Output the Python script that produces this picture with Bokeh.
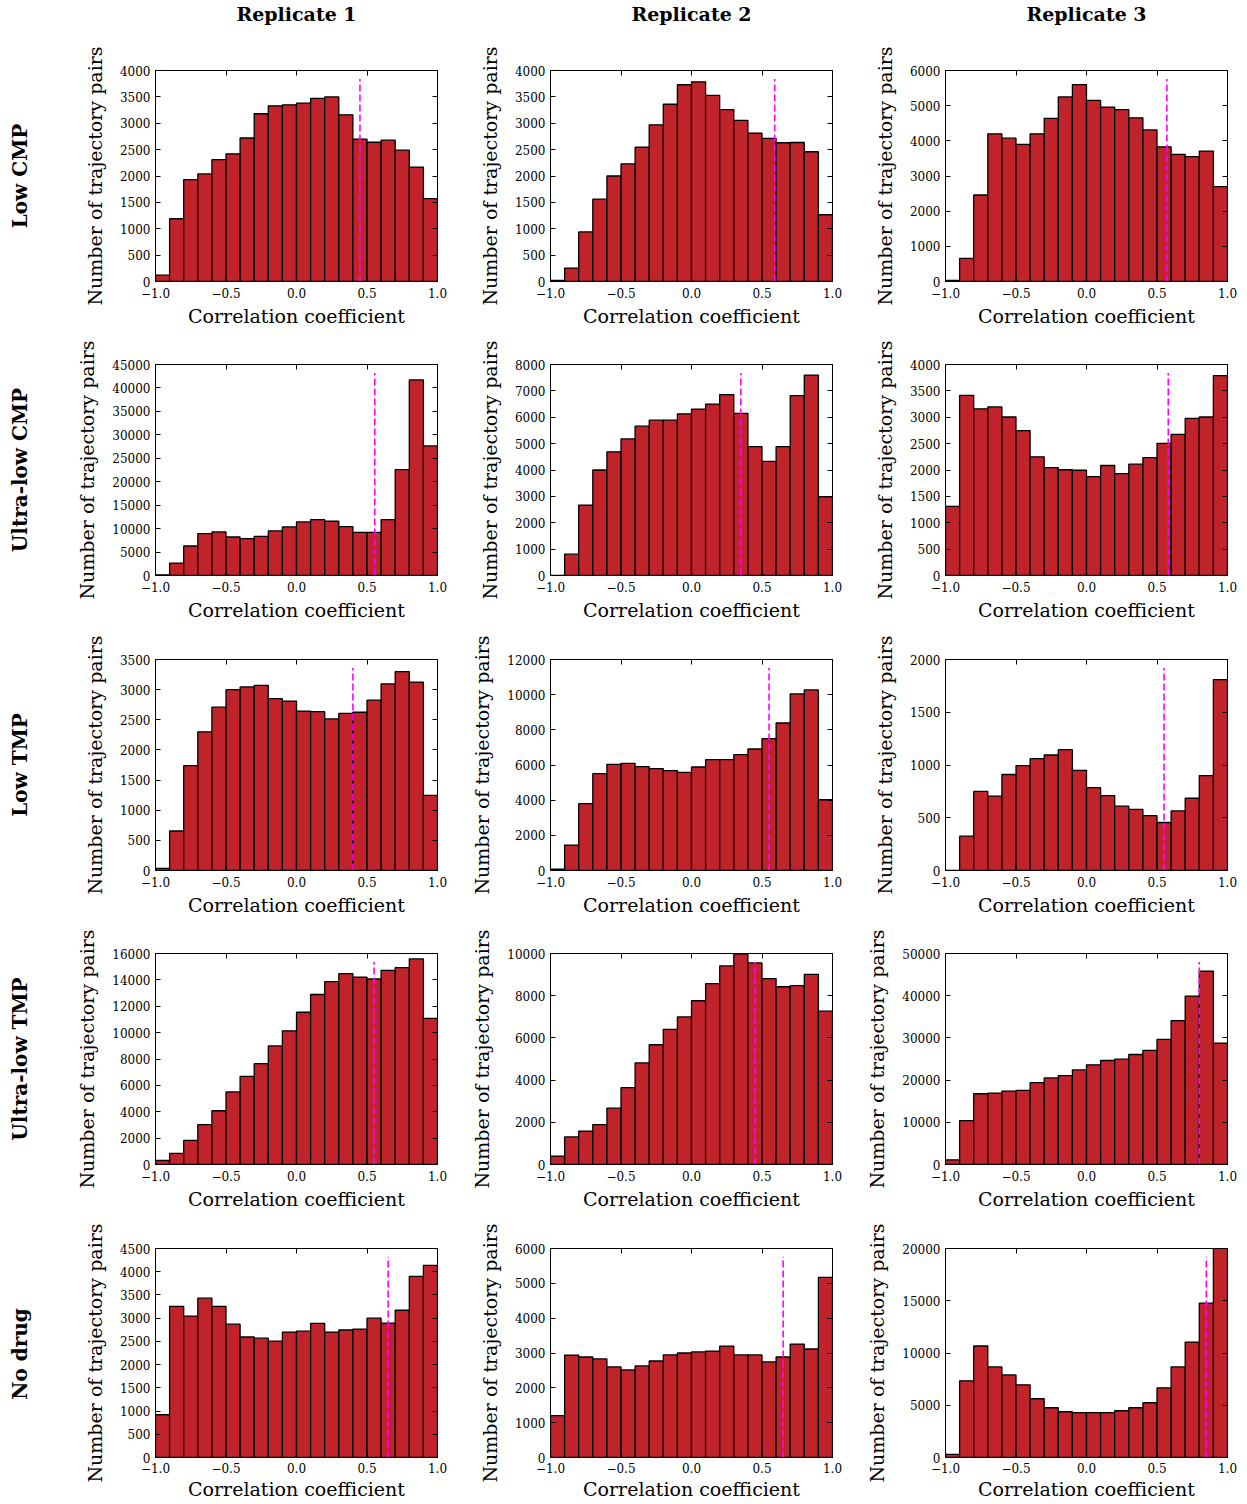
import numpy as np
from bokeh.plotting import figure
from bokeh.layouts import row, column
from bokeh.models import Range1d, FixedTicker, LinearAxis, CustomJSTickFormatter
from bokeh.core.properties import value
from bokeh.embed import file_html
from bokeh.resources import INLINE

# ---------------- data ----------------
conditions = ["Low CMP", "Ultra-low CMP", "Low TMP", "Ultra-low TMP", "No drug"]
replicates = ["Replicate 1", "Replicate 2", "Replicate 3"]

bin_edges = np.linspace(-1.0, 1.0, 21)

low_cmp_r1 = [120, 1190, 1930, 2040, 2310, 2420, 2720, 3180, 3330, 3350, 3380, 3470, 3500, 3160, 2700, 2640, 2680, 2490, 2170, 1570]
low_cmp_r2 = [20, 255, 940, 1560, 2000, 2230, 2545, 2970, 3360, 3730, 3785, 3530, 3260, 3055, 2810, 2715, 2630, 2635, 2460, 1265]
low_cmp_r3 = [30, 660, 2460, 4200, 4075, 3900, 4200, 4640, 5250, 5600, 5150, 4960, 4885, 4655, 4310, 3830, 3615, 3550, 3710, 2700]

ulow_cmp_r1 = [150, 2640, 6290, 8930, 9290, 8210, 7860, 8360, 9500, 10360, 11430, 11930, 11570, 10430, 9210, 9210, 11930, 22570, 41710, 27640]
ulow_cmp_r2 = [0, 810, 2670, 4000, 4690, 5180, 5660, 5890, 5890, 6130, 6310, 6500, 6860, 6150, 4890, 4330, 4890, 6820, 7600, 2985]
ulow_cmp_r3 = [1310, 3415, 3160, 3195, 3005, 2745, 2250, 2045, 2005, 1995, 1875, 2085, 1930, 2110, 2235, 2505, 2675, 2980, 3005, 3790]

low_tmp_r1 = [35, 655, 1740, 2300, 2710, 3000, 3045, 3070, 2850, 2810, 2645, 2635, 2515, 2605, 2625, 2825, 3095, 3300, 3125, 1245]
low_tmp_r2 = [80, 1445, 3800, 5505, 6040, 6095, 5905, 5790, 5680, 5580, 5885, 6305, 6305, 6590, 6910, 7500, 8390, 10045, 10270, 4025]
low_tmp_r3 = [0, 325, 750, 705, 910, 995, 1060, 1095, 1145, 950, 785, 710, 610, 580, 520, 455, 565, 685, 900, 1810]

ulow_tmp_r1 = [305, 840, 1835, 3030, 4075, 5505, 6675, 7645, 8995, 10140, 11545, 12890, 13860, 14470, 14215, 14065, 14725, 14930, 15590, 11085]
ulow_tmp_r2 = [400, 1305, 1575, 1890, 2670, 3640, 4815, 5675, 6405, 6995, 7760, 8570, 9410, 9980, 9555, 8810, 8425, 8475, 9015, 7265]
ulow_tmp_r3 = [1110, 10410, 16770, 16930, 17410, 17570, 19400, 20510, 21065, 22420, 23610, 24640, 24960, 26070, 27030, 29650, 34100, 39900, 45790, 28780]

nodrug_r1 = [920, 3255, 3045, 3430, 3255, 2870, 2595, 2570, 2505, 2700, 2720, 2890, 2700, 2745, 2765, 3000, 2895, 3170, 3900, 4135]
nodrug_r2 = [1200, 2940, 2885, 2830, 2600, 2515, 2630, 2770, 2945, 3000, 3030, 3055, 3200, 2945, 2945, 2745, 2885, 3255, 3115, 5170]
nodrug_r3 = [290, 7335, 10670, 8670, 7905, 6955, 5620, 4760, 4380, 4285, 4285, 4285, 4475, 4760, 5240, 6665, 8670, 11050, 14765, 20400]

counts = [
    [low_cmp_r1, low_cmp_r2, low_cmp_r3],
    [ulow_cmp_r1, ulow_cmp_r2, ulow_cmp_r3],
    [low_tmp_r1, low_tmp_r2, low_tmp_r3],
    [ulow_tmp_r1, ulow_tmp_r2, ulow_tmp_r3],
    [nodrug_r1, nodrug_r2, nodrug_r3],
]

medians = [
    [0.45, 0.59, 0.57],
    [0.555, 0.35, 0.58],
    [0.40, 0.55, 0.55],
    [0.55, 0.45, 0.80],
    [0.65, 0.65, 0.85],
]

# (axis max, tick step)
y_axes = [
    [(4000, 500), (4000, 500), (6000, 1000)],
    [(45000, 5000), (8000, 1000), (4000, 500)],
    [(3500, 500), (12000, 2000), (2000, 500)],
    [(16000, 2000), (10000, 2000), (50000, 10000)],
    [(4500, 500), (6000, 1000), (20000, 5000)],
]

x_ticks = [-1.0, -0.5, 0.0, 0.5, 1.0]
x_label = "Correlation coefficient"
y_label = "Number of trajectory pairs"

# ---------------- style / geometry ----------------
FONT = "DejaVu Serif"
BAR_FILL = "#C1232A"
MEDIAN_COLOR = "#FF00FF"

LEFT_W = 40
HEADER_H = 30
FRAME_W, FRAME_H = 282, 211
col_borders = [(115, 31), (82, 31), (82, 15)]          # (left, right)
row_borders = [(40, 50), (33, 50), (34, 50), (33, 50), (34, 43)]  # (top, bottom)

minus_fmt = "return tick.toFixed(1).replace('-', '\u2212');"
int_fmt = "return tick.toFixed(0);"
empty_fmt = "return '';"


def style_axis(ax, show_labels=True):
    ax.axis_line_color = "black"
    ax.axis_line_width = 1
    ax.major_tick_in = 5
    ax.major_tick_out = 0
    ax.major_tick_line_color = "black"
    ax.major_tick_line_width = 1
    ax.minor_tick_line_color = None
    ax.major_label_text_font = FONT
    ax.major_label_text_color = "black"
    ax.major_label_text_font_size = "12px" if show_labels else "0px"
    ax.axis_label_text_font = FONT
    ax.axis_label_text_font_size = "19px"
    ax.axis_label_text_font_style = "normal"
    ax.axis_label_text_color = "black"


def make_panel(ri, ci):
    ymax, ystep = y_axes[ri][ci]
    bl, br = col_borders[ci]
    bt, bb = row_borders[ri]
    p = figure(
        width=bl + FRAME_W + br,
        height=bt + FRAME_H + bb,
        x_range=Range1d(-1, 1),
        y_range=Range1d(0, ymax),
        output_backend="svg",
        toolbar_location=None,
        min_border_left=bl,
        min_border_right=br,
        min_border_top=bt,
        min_border_bottom=bb,
        background_fill_color="white",
        border_fill_color="white",
    )
    p.outline_line_color = "black"
    p.outline_line_width = 1
    p.xgrid.visible = False
    p.ygrid.visible = False

    vals = counts[ri][ci]
    p.quad(left=bin_edges[:-1], right=bin_edges[1:], bottom=0, top=vals,
           fill_color=BAR_FILL, line_color="black", line_width=1.3)
    m = medians[ri][ci]
    p.line([m, m], [0, 0.96 * ymax], line_color=MEDIAN_COLOR,
           line_dash="7 3", line_width=1.6)

    yt = list(range(0, ymax + 1, ystep))
    xaxis = p.xaxis[0]
    yaxis = p.yaxis[0]
    xaxis.ticker = FixedTicker(ticks=x_ticks)
    xaxis.formatter = CustomJSTickFormatter(code=minus_fmt)
    yaxis.ticker = FixedTicker(ticks=yt)
    yaxis.formatter = CustomJSTickFormatter(code=int_fmt)
    xaxis.axis_label = x_label
    yaxis.axis_label = y_label
    style_axis(xaxis)
    style_axis(yaxis)
    yaxis.major_label_standoff = 5
    yaxis.axis_label_standoff = 11
    if ri == len(conditions) - 1:
        xaxis.major_label_standoff = 5
        xaxis.axis_label_standoff = 2
    else:
        xaxis.major_label_standoff = 6
        xaxis.axis_label_standoff = 4

    top_ax = LinearAxis(ticker=FixedTicker(ticks=x_ticks),
                        formatter=CustomJSTickFormatter(code=empty_fmt),
                        major_label_standoff=0)
    right_ax = LinearAxis(ticker=FixedTicker(ticks=yt),
                          formatter=CustomJSTickFormatter(code=empty_fmt),
                          major_label_standoff=0)
    style_axis(top_ax, show_labels=False)
    style_axis(right_ax, show_labels=False)
    p.add_layout(top_ax, "above")
    p.add_layout(right_ax, "right")
    return p


# ---------------- header (column titles) ----------------
grid_w = sum(bl + FRAME_W + br for bl, br in col_borders)
total_h = HEADER_H + sum(bt + FRAME_H + bb for bt, bb in row_borders)

header = figure(width=grid_w, height=HEADER_H,
                x_range=Range1d(0, grid_w), y_range=Range1d(HEADER_H, 0),
                x_axis_type=None, y_axis_type=None,
                output_backend="svg", toolbar_location=None, min_border=0)
header.outline_line_color = None
col_centers = []
xpos = 0
for bl, br in col_borders:
    col_centers.append(xpos + bl + FRAME_W / 2)
    xpos += bl + FRAME_W + br
header.text(x=col_centers, y=[13.5] * 3, text=replicates,
            text_font=value(FONT), text_font_style="bold",
            text_font_size="19px", text_align="center",
            text_baseline="alphabetic", text_color="black")

# ---------------- left (row labels) ----------------
left = figure(width=LEFT_W, height=total_h,
              x_range=Range1d(0, LEFT_W), y_range=Range1d(total_h, 0),
              x_axis_type=None, y_axis_type=None,
              output_backend="svg", toolbar_location=None, min_border=0)
left.outline_line_color = None
row_centers = []
ypos = HEADER_H
for bt, bb in row_borders:
    row_centers.append(ypos + bt + FRAME_H / 2)
    ypos += bt + FRAME_H + bb
left.text(x=[19.5] * len(conditions), y=row_centers, text=conditions,
          angle=np.pi / 2, text_font=value(FONT), text_font_style="bold",
          text_font_size="20px", text_align="center",
          text_baseline="alphabetic", text_color="black")

# ---------------- grid ----------------
grid_rows = []
for ri in range(len(conditions)):
    grid_rows.append(row([make_panel(ri, ci) for ci in range(3)], spacing=0))

right_col = column([header] + grid_rows, spacing=0)
layout = row([left, right_col], spacing=0)

open("out.html", "w").write(file_html(layout, INLINE, title="Correlation histograms"))
